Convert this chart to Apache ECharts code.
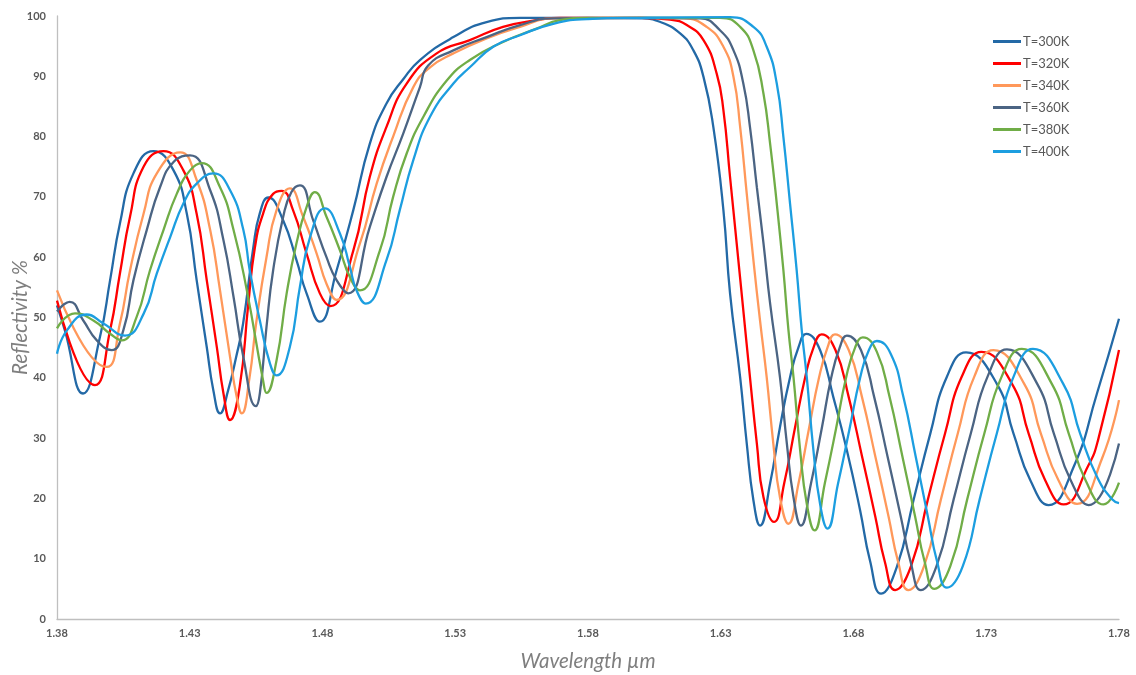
<!DOCTYPE html>
<html><head><meta charset="utf-8">
<script src="https://cdn.jsdelivr.net/npm/echarts@6/dist/echarts.min.js"></script>
<style>html,body{margin:0;padding:0;background:#fff}#c{width:1136px;height:675px}</style>
</head><body><div id="c"></div>
<script>
// Wavelength (µm) / reflectivity (%) pairs
const seriesNames = ['T=300K','T=320K','T=340K','T=360K','T=380K','T=400K'];
const xTicks = [1.38,1.43,1.48,1.53,1.58,1.63,1.68,1.73,1.78];

const r300 = [[1.38,52.0],[1.383,47.8],[1.3898,37.4],[1.3962,46.8],[1.4,56.2],[1.4037,65.6],[1.4088,73.9],[1.4163,77.6],[1.4239,74.4],[1.4289,67.2],[1.4326,56.2],[1.4364,45.1],[1.4389,37.9],[1.4414,34.1],[1.4445,38],[1.4475,43.5],[1.4501,49],[1.4539,61.5],[1.4564,67.3],[1.4596,69.9],[1.4652,66.1],[1.4702,59.5],[1.474,54],[1.479,49.3],[1.4853,57.8],[1.4916,67.8],[1.4978,78.8],[1.5041,85.5],[1.5104,89.5],[1.5167,92.7],[1.5293,96.5],[1.5418,99],[1.5544,99.7],[1.58,99.7],[1.60,99.6],[1.6073,99],[1.6147,97.1],[1.6197,94.3],[1.6235,89.9],[1.6272,81.6],[1.631,67.8],[1.6335,54],[1.6373,40.1],[1.6398,29.1],[1.6423,19.7],[1.6448,15.5],[1.6486,22.5],[1.6523,31.8],[1.6561,40.1],[1.6593,45.1],[1.6622,47.3],[1.6674,44.6],[1.6724,36.8],[1.6775,28],[1.6825,18],[1.6862,9.7],[1.6904,4.2],[1.6963,8.6],[1.7026,19.7],[1.7089,30.7],[1.7151,40.1],[1.7224,44.2],[1.734,39],[1.7403,30.7],[1.7466,23],[1.7535,18.9],[1.7629,25.2],[1.7717,37.4],[1.78,49.8]];

const r320 = [[1.38,52.8],[1.3943,38.8],[1.4,47.9],[1.4037,57.3],[1.4075,66.7],[1.4126,75],[1.4201,77.6],[1.4276,74.4],[1.4326,67.2],[1.4364,56.2],[1.4402,45.1],[1.4427,37.4],[1.4452,33.0],[1.4488,38.5],[1.452,52],[1.4545,61.5],[1.4576,67.2],[1.4614,70.5],[1.4646,71.0],[1.4689,67.8],[1.474,60.6],[1.479,54],[1.483,51.9],[1.4916,61.1],[1.4978,73.3],[1.5041,81.6],[1.5117,88.8],[1.523,93.8],[1.5355,96],[1.548,98.2],[1.5606,99.3],[1.5694,99.7],[1.60,99.7],[1.6109,99.4],[1.6172,98.5],[1.6235,96],[1.6285,90.4],[1.631,84.4],[1.6335,73.3],[1.636,62.3],[1.6385,51.2],[1.641,40.1],[1.6436,29.1],[1.6461,20.2],[1.6501,16.1],[1.6539,22.5],[1.658,31.8],[1.6618,40.1],[1.6650,45.1],[1.668,47.2],[1.6732,44.6],[1.6782,36.8],[1.6832,27],[1.6882,17],[1.6918,9.5],[1.6957,4.8],[1.7017,8.8],[1.708,19.8],[1.7145,30.8],[1.7208,40.2],[1.7282,44.3],[1.7397,39],[1.746,30.7],[1.7522,23],[1.7591,19.0],[1.7685,25.5],[1.7723,30],[1.78,44.6]];

const r340 = [[1.38,54.5],[1.3987,41.8],[1.4037,49],[1.4075,57.8],[1.4126,67.2],[1.4176,73.9],[1.4264,77.4],[1.4326,72.8],[1.4377,64.5],[1.4414,54.5],[1.4452,43.4],[1.4477,36.8],[1.4496,34.1],[1.4525,40],[1.455,49],[1.4589,60],[1.4627,67.8],[1.4677,71.4],[1.4727,66.7],[1.4778,60.6],[1.4815,55.6],[1.4853,52.9],[1.4941,62.3],[1.5004,72.2],[1.5066,80],[1.5142,88.2],[1.5205,91.5],[1.5293,93.8],[1.5418,96.3],[1.5544,98.2],[1.5669,99.6],[1.60,99.7],[1.6159,99.6],[1.6247,98.2],[1.631,94.9],[1.6348,89.9],[1.6373,81.6],[1.6398,70.5],[1.6423,59.5],[1.6448,49.5],[1.6473,40.1],[1.6498,29.1],[1.6523,20.2],[1.6555,15.8],[1.6593,22.5],[1.6632,31.5],[1.667,40],[1.6702,45],[1.673,47.2],[1.6782,44.6],[1.6832,36.8],[1.6882,27],[1.6932,17],[1.6968,9.5],[1.7007,4.8],[1.7066,8.8],[1.7129,19.8],[1.7193,30.8],[1.7255,40.2],[1.7327,44.6],[1.7443,39],[1.7506,30.7],[1.7572,23],[1.7642,19.1],[1.7735,26.5],[1.78,36.3]];

const r360 = [[1.38,51],[1.3848,52.6],[1.3899,49.5],[1.395,46.2],[1.4006,44.6],[1.405,47.9],[1.4088,56.2],[1.4138,64.5],[1.4188,71.6],[1.4239,75.8],[1.4301,76.9],[1.4377,71.1],[1.4427,62.8],[1.4465,53.4],[1.4502,43.4],[1.4549,35.3],[1.4564,37.4],[1.4589,48.4],[1.4614,57.8],[1.4652,66.7],[1.4683,70.8],[1.4715,71.9],[1.4765,66.1],[1.4815,60],[1.4853,56.2],[1.4897,54],[1.4978,65],[1.5041,73.3],[1.5104,80.5],[1.5167,88.2],[1.5198,91.8],[1.5293,94.3],[1.5418,96.5],[1.5544,98.5],[1.5669,99.6],[1.60,99.7],[1.6222,99.6],[1.6298,97.6],[1.6348,94.3],[1.6385,88.8],[1.641,81.6],[1.6436,71.6],[1.6461,62.3],[1.6486,52.3],[1.6523,40.1],[1.6549,29.1],[1.6574,20.2],[1.6602,15.5],[1.664,22.5],[1.668,31.5],[1.6716,40],[1.6748,45],[1.6775,47.0],[1.6828,44.6],[1.6878,36.8],[1.6928,27],[1.6978,17],[1.7015,9.5],[1.7054,4.8],[1.7113,8.8],[1.7177,19.8],[1.7242,30.8],[1.7305,40.2],[1.7378,44.7],[1.7492,39],[1.7555,30.7],[1.7618,23],[1.7686,18.9],[1.78,29.1]];

const r380 = [[1.38,48.2],[1.3868,50.7],[1.3937,49.5],[1.4,47.3],[1.4044,46.2],[1.41,50.1],[1.415,57.8],[1.4201,64.5],[1.4251,70.5],[1.4301,74.4],[1.4345,75.6],[1.4414,71.6],[1.4465,64.5],[1.4515,54.5],[1.4576,39.6],[1.4589,37.5],[1.4627,42.9],[1.4665,54],[1.4702,62.3],[1.474,68.3],[1.4771,70.8],[1.4815,66.7],[1.4866,61.1],[1.4903,56.7],[1.4941,54.5],[1.5016,61.1],[1.5066,70],[1.5117,77.2],[1.518,83.3],[1.5268,89.3],[1.5355,92.7],[1.548,95.7],[1.5606,97.9],[1.5694,99.3],[1.58,99.7],[1.6297,99.7],[1.6373,98.2],[1.6423,94.3],[1.6461,87.1],[1.6486,78.8],[1.6511,68.9],[1.6536,57.8],[1.6555,47.9],[1.6574,40.1],[1.6599,28],[1.6624,19.1],[1.6653,14.7],[1.6692,22.5],[1.6734,31.5],[1.6772,40],[1.6806,45],[1.6835,46.7],[1.6888,44.3],[1.6936,36.8],[1.6984,27],[1.7032,17],[1.7068,9.5],[1.7105,5.0],[1.7165,8.8],[1.7228,19.8],[1.7293,30.8],[1.7358,40.2],[1.7434,44.8],[1.7547,39],[1.7611,30.7],[1.7674,23],[1.7742,19.0],[1.78,22.6]];

const r400 = [[1.38,44],[1.3838,47.9],[1.3912,50.5],[1.3975,49],[1.4056,47.0],[1.4126,50.6],[1.4176,57.3],[1.4226,63.3],[1.4276,68.9],[1.4326,72.2],[1.4389,73.9],[1.4452,71.1],[1.4502,64.5],[1.4526,57.8],[1.4564,49.5],[1.4602,42.4],[1.4627,40.4],[1.4677,45.1],[1.4715,55.1],[1.4753,63.3],[1.4809,68.1],[1.4866,63.9],[1.4903,58.4],[1.4928,54.5],[1.4963,52.3],[1.5041,59.5],[1.5091,67.8],[1.5142,76.1],[1.5205,83.3],[1.5293,88.8],[1.5355,91.5],[1.5443,94.9],[1.5544,96.8],[1.5669,98.7],[1.58,99.5],[1.60,99.7],[1.6335,99.8],[1.6423,98.2],[1.6473,94.9],[1.6511,88.8],[1.6536,79.9],[1.6561,68.9],[1.6586,57.8],[1.6605,47.9],[1.6624,40.1],[1.6649,28],[1.6674,19.1],[1.6702,15.0],[1.6742,22.5],[1.6785,31.5],[1.6825,40],[1.6858,44.6],[1.6888,46.1],[1.694,44],[1.6988,36.8],[1.7034,27],[1.708,17],[1.7115,9.5],[1.7152,5.2],[1.7212,8.8],[1.7275,19.8],[1.734,30.8],[1.7403,40.2],[1.7476,44.8],[1.759,39],[1.7654,30.7],[1.7718,23.5],[1.7775,19.8],[1.78,19.2]];

const seriesData = [r300, r320, r340, r360, r380, r400];
const colors = ['#2369a6','#ff0000','#ff985a','#4b6483','#70ad47','#1c9ee0'];

const chart = echarts.init(document.getElementById('c'), null, {renderer:'canvas'});
const font = 'Lato, "Open Sans", sans-serif';
chart.setOption({
  animation: false,
  color: colors,
  grid: {left: 57, right: 17, top: 16, bottom: 56, containLabel: false, outerBoundsMode: 'none'},
  legend: {
    orient: 'vertical', left: 988, top: 30,
    itemWidth: 28, itemHeight: 3, itemGap: 9, icon: 'rect',
    textStyle: {color: '#595959', fontSize: 13, fontFamily: font, padding: [0,0,0,-3]},
    data: seriesNames
  },
  xAxis: {
    type: 'value', min: 1.38, max: 1.78,
    name: 'Wavelength µm', nameLocation: 'middle', nameGap: 32, nameMoveOverlap: false,
    nameTextStyle: {color: '#7f7f7f', fontSize: 20.5, fontStyle: 'italic', fontFamily: font},
    axisLine: {lineStyle: {color: '#bfbfbf', width: 1.3}},
    axisTick: {show: false},
    splitLine: {show: false},
    axisLabel: {customValues: xTicks, color: '#595959', fontSize: 11, fontWeight: 'bold', fontFamily: font, margin: 9,
      formatter: v => v.toFixed(2)}
  },
  yAxis: {
    type: 'value', min: 0, max: 100, interval: 10,
    name: 'Reflectivity %', nameLocation: 'middle', nameGap: 27, nameMoveOverlap: false,
    nameTextStyle: {color: '#7f7f7f', fontSize: 20.5, fontStyle: 'italic', fontFamily: font},
    axisLine: {show: true, lineStyle: {color: '#bfbfbf', width: 1.3}},
    axisTick: {show: false},
    splitLine: {show: false},
    axisLabel: {color: '#595959', fontSize: 11, fontWeight: 'bold', fontFamily: font, margin: 11}
  },
  series: seriesNames.map((n, i) => ({
    name: n, type: 'line', data: seriesData[i], showSymbol: false, symbol: 'none',
    smooth: 0.5, lineStyle: {width: 2.3, color: colors[i]}
  }))
});
</script></body></html>
